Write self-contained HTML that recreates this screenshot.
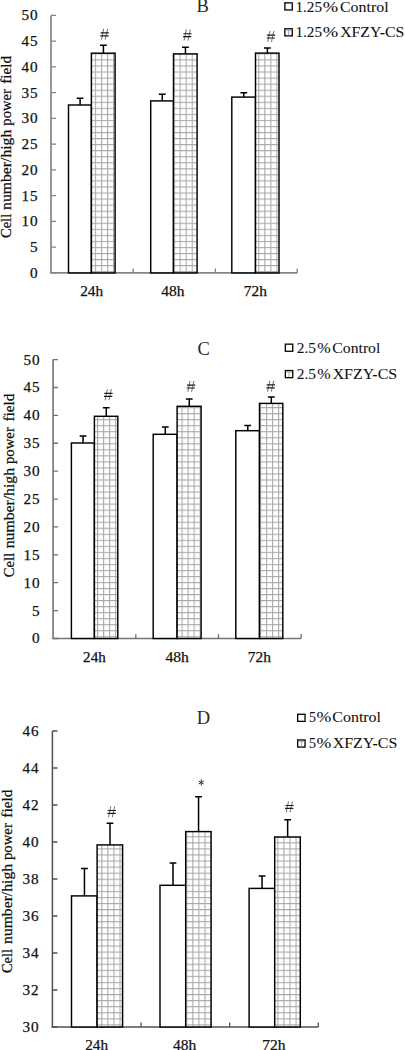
<!DOCTYPE html>
<html><head><meta charset="utf-8"><title>Cell number charts</title>
<style>html,body{margin:0;padding:0;background:#fff;}body{width:405px;height:1050px;overflow:hidden;}svg{display:block;}text{font-family:"Liberation Serif", serif;fill:#111;stroke:#111;stroke-width:0.25px;}</style>
</head><body>
<svg width="405" height="1050" viewBox="0 0 405 1050">
<rect width="405" height="1050" fill="#fff"/>
<defs>
<pattern id="g0" patternUnits="userSpaceOnUse" x="94.9" y="59.4" width="6.05" height="6.05">
<rect width="6.05" height="6.05" fill="#fff"/>
<path d="M0 0.5H6.05M0.5 0V6.05" stroke="#a8a8a8" stroke-width="1.1" fill="none"/>
</pattern>
<pattern id="g1" patternUnits="userSpaceOnUse" x="97.1" y="563.9" width="6.03" height="6.03">
<rect width="6.03" height="6.03" fill="#fff"/>
<path d="M0 0.5H6.03M0.5 0V6.03" stroke="#a8a8a8" stroke-width="1.1" fill="none"/>
</pattern>
<pattern id="g2" patternUnits="userSpaceOnUse" x="101.3" y="903" width="6.07" height="6.07">
<rect width="6.07" height="6.07" fill="#fff"/>
<path d="M0 0.5H6.07M0.5 0V6.07" stroke="#a8a8a8" stroke-width="1.1" fill="none"/>
</pattern>
</defs>
<g stroke="#848484" fill="none">
<path d="M51 15.4V272.9" stroke-width="1.7"/>
<path d="M51 15.4H56M51 41.15H56M51 66.9H56M51 92.65H56M51 118.4H56M51 144.15H56M51 169.9H56M51 195.65H56M51 221.4H56M51 247.15H56M51 272.9H56" stroke-width="1.3"/>
<path d="M50 272.9H297.2" stroke-width="1.7"/>
<path d="M133.2 272.9V268.4M215.4 272.9V268.4M297.2 272.9V268.4" stroke-width="1.3"/>
</g>
<text x="38.5" y="20.3" font-size="15.2" text-anchor="end" letter-spacing="0.9">50</text>
<text x="38.5" y="46.05" font-size="15.2" text-anchor="end" letter-spacing="0.9">45</text>
<text x="38.5" y="71.8" font-size="15.2" text-anchor="end" letter-spacing="0.9">40</text>
<text x="38.5" y="97.55" font-size="15.2" text-anchor="end" letter-spacing="0.9">35</text>
<text x="38.5" y="123.3" font-size="15.2" text-anchor="end" letter-spacing="0.9">30</text>
<text x="38.5" y="149.05" font-size="15.2" text-anchor="end" letter-spacing="0.9">25</text>
<text x="38.5" y="174.8" font-size="15.2" text-anchor="end" letter-spacing="0.9">20</text>
<text x="38.5" y="200.55" font-size="15.2" text-anchor="end" letter-spacing="0.9">15</text>
<text x="38.5" y="226.3" font-size="15.2" text-anchor="end" letter-spacing="0.9">10</text>
<text x="38.5" y="252.05" font-size="15.2" text-anchor="end" letter-spacing="0.9">5</text>
<text x="38.5" y="277.8" font-size="15.2" text-anchor="end" letter-spacing="0.9">0</text>
<rect x="68.5" y="105" width="22.9" height="167.9" fill="#fff" stroke="#000" stroke-width="1.45"/>
<rect x="91.4" y="53.2" width="23.7" height="219.7" fill="url(#g0)" stroke="#000" stroke-width="1.45"/>
<path d="M80.1 105V98.3M76.7 98.3H83.5" stroke="#000" stroke-width="1.5" fill="none"/>
<path d="M103.4 53.2V45.2M100 45.2H106.8" stroke="#000" stroke-width="1.5" fill="none"/>
<path d="M103.7 28.7L101.4 39.7M107.6 28.7L105.2 39.7" stroke="#555" stroke-width="0.85" fill="none"/>
<path d="M100.6 32.9H108.9M100.3 35.8H108.6" stroke="#1a1a1a" stroke-width="1.15" fill="none"/>
<rect x="150.7" y="100.9" width="22.8" height="172" fill="#fff" stroke="#000" stroke-width="1.45"/>
<rect x="173.5" y="53.9" width="23.6" height="219" fill="url(#g0)" stroke="#000" stroke-width="1.45"/>
<path d="M162.25 100.9V94.3M158.85 94.3H165.65" stroke="#000" stroke-width="1.5" fill="none"/>
<path d="M185.45 53.9V47.2M182.05 47.2H188.85" stroke="#000" stroke-width="1.5" fill="none"/>
<path d="M186.4 29.5L184.1 40.5M190.3 29.5L187.9 40.5" stroke="#555" stroke-width="0.85" fill="none"/>
<path d="M183.3 33.7H191.6M183 36.6H191.3" stroke="#1a1a1a" stroke-width="1.15" fill="none"/>
<rect x="231.8" y="97.1" width="23.7" height="175.8" fill="#fff" stroke="#000" stroke-width="1.45"/>
<rect x="255.5" y="53.1" width="23.5" height="219.8" fill="url(#g0)" stroke="#000" stroke-width="1.45"/>
<path d="M243.8 97.1V92.7M240.4 92.7H247.2" stroke="#000" stroke-width="1.5" fill="none"/>
<path d="M267.4 53.1V48M264 48H270.8" stroke="#000" stroke-width="1.5" fill="none"/>
<path d="M270 30.9L267.7 41.9M273.9 30.9L271.5 41.9" stroke="#555" stroke-width="0.85" fill="none"/>
<path d="M266.9 35.1H275.2M266.6 38H274.9" stroke="#1a1a1a" stroke-width="1.15" fill="none"/>
<text x="80.23" y="296" font-size="15" textLength="22.87" lengthAdjust="spacingAndGlyphs">24h</text>
<text x="161.2" y="296" font-size="15" textLength="23.21" lengthAdjust="spacingAndGlyphs">48h</text>
<text x="243.78" y="296" font-size="15" textLength="23.12" lengthAdjust="spacingAndGlyphs">72h</text>
<text x="202.7" y="12.4" font-size="18.5" text-anchor="middle" style="stroke-width:0;fill:#2a2a2a">B</text>
<rect x="284.85" y="2.85" width="7.4" height="7.1" fill="#fff" stroke="#000" stroke-width="1.3"/>
<text x="295.46" y="11.9" font-size="15" textLength="26.63" lengthAdjust="spacingAndGlyphs" style="stroke-width:0.08px">1.25</text>
<text x="322.67" y="11.9" font-size="15" textLength="15.47" lengthAdjust="spacingAndGlyphs" style="stroke-width:0.08px">%</text>
<text x="339.95" y="11.9" font-size="15" textLength="48.67" lengthAdjust="spacingAndGlyphs" style="stroke-width:0.08px">Control</text>
<rect x="284.85" y="28.75" width="7.4" height="7.1" fill="#fff" stroke="#000" stroke-width="1.3"/>
<path d="M288.6 29.6V35.3M285.7 30.3H291.4" stroke="#a8a8a8" stroke-width="1" fill="none"/>
<text x="295.46" y="37.2" font-size="15" textLength="26.63" lengthAdjust="spacingAndGlyphs" style="stroke-width:0.08px">1.25</text>
<text x="322.67" y="37.2" font-size="15" textLength="15.47" lengthAdjust="spacingAndGlyphs" style="stroke-width:0.08px">%</text>
<text x="340.16" y="37.2" font-size="15" textLength="64.09" lengthAdjust="spacingAndGlyphs" style="stroke-width:0.08px">XFZY-CS</text>
<text transform="rotate(-90)" x="-238.1" y="11.3" font-size="15" textLength="24.29" lengthAdjust="spacingAndGlyphs">Cell</text>
<text transform="rotate(-90)" x="-209.96" y="11.3" font-size="15" textLength="80.27" lengthAdjust="spacingAndGlyphs">number/high</text>
<text transform="rotate(-90)" x="-125.64" y="11.3" font-size="15" textLength="36.46" lengthAdjust="spacingAndGlyphs">power</text>
<text transform="rotate(-90)" x="-83.77" y="11.3" font-size="15" textLength="27.85" lengthAdjust="spacingAndGlyphs">field</text>
<g stroke="#747474" fill="none">
<path d="M53.1 359.6V638.5" stroke-width="1.6"/>
<path d="M53.1 359.6H58.1M53.1 387.49H58.1M53.1 415.38H58.1M53.1 443.27H58.1M53.1 471.16H58.1M53.1 499.05H58.1M53.1 526.94H58.1M53.1 554.83H58.1M53.1 582.72H58.1M53.1 610.61H58.1M53.1 638.5H58.1" stroke-width="1.3"/>
<path d="M52.1 638.5H301.2" stroke-width="1.6"/>
<path d="M135.8 638.5V634M218.5 638.5V634M301.2 638.5V634" stroke-width="1.3"/>
</g>
<text x="40.5" y="364.5" font-size="15.2" text-anchor="end" letter-spacing="0.9">50</text>
<text x="40.5" y="392.39" font-size="15.2" text-anchor="end" letter-spacing="0.9">45</text>
<text x="40.5" y="420.28" font-size="15.2" text-anchor="end" letter-spacing="0.9">40</text>
<text x="40.5" y="448.17" font-size="15.2" text-anchor="end" letter-spacing="0.9">35</text>
<text x="40.5" y="476.06" font-size="15.2" text-anchor="end" letter-spacing="0.9">30</text>
<text x="40.5" y="503.95" font-size="15.2" text-anchor="end" letter-spacing="0.9">25</text>
<text x="40.5" y="531.84" font-size="15.2" text-anchor="end" letter-spacing="0.9">20</text>
<text x="40.5" y="559.73" font-size="15.2" text-anchor="end" letter-spacing="0.9">15</text>
<text x="40.5" y="587.62" font-size="15.2" text-anchor="end" letter-spacing="0.9">10</text>
<text x="40.5" y="615.51" font-size="15.2" text-anchor="end" letter-spacing="0.9">5</text>
<text x="40.5" y="643.4" font-size="15.2" text-anchor="end" letter-spacing="0.9">0</text>
<rect x="71.4" y="443" width="23" height="195.5" fill="#fff" stroke="#000" stroke-width="1.45"/>
<rect x="94.4" y="416.3" width="23.4" height="222.2" fill="url(#g1)" stroke="#000" stroke-width="1.45"/>
<path d="M83.05 443V435.9M79.65 435.9H86.45" stroke="#000" stroke-width="1.5" fill="none"/>
<path d="M106.25 416.3V407.7M102.85 407.7H109.65" stroke="#000" stroke-width="1.5" fill="none"/>
<path d="M107.4 389.2L105.1 400.2M111.3 389.2L108.9 400.2" stroke="#555" stroke-width="0.85" fill="none"/>
<path d="M104.3 393.4H112.6M104 396.3H112.3" stroke="#1a1a1a" stroke-width="1.15" fill="none"/>
<rect x="153.2" y="434.3" width="23.9" height="204.2" fill="#fff" stroke="#000" stroke-width="1.45"/>
<rect x="177.1" y="406.3" width="24" height="232.2" fill="url(#g1)" stroke="#000" stroke-width="1.45"/>
<path d="M165.3 434.3V427M161.9 427H168.7" stroke="#000" stroke-width="1.5" fill="none"/>
<path d="M189.25 406.3V399M185.85 399H192.65" stroke="#000" stroke-width="1.5" fill="none"/>
<path d="M190.1 380.9L187.8 391.9M194 380.9L191.6 391.9" stroke="#555" stroke-width="0.85" fill="none"/>
<path d="M187 385.1H195.3M186.7 388H195" stroke="#1a1a1a" stroke-width="1.15" fill="none"/>
<rect x="235.8" y="430.7" width="23.7" height="207.8" fill="#fff" stroke="#000" stroke-width="1.45"/>
<rect x="259.5" y="403.4" width="23.3" height="235.1" fill="url(#g1)" stroke="#000" stroke-width="1.45"/>
<path d="M247.8 430.7V425.5M244.4 425.5H251.2" stroke="#000" stroke-width="1.5" fill="none"/>
<path d="M271.3 403.4V397M267.9 397H274.7" stroke="#000" stroke-width="1.5" fill="none"/>
<path d="M269.8 380.7L267.5 391.7M273.7 380.7L271.3 391.7" stroke="#555" stroke-width="0.85" fill="none"/>
<path d="M266.7 384.9H275M266.4 387.8H274.7" stroke="#1a1a1a" stroke-width="1.15" fill="none"/>
<text x="83.14" y="661.7" font-size="15" textLength="22.56" lengthAdjust="spacingAndGlyphs">24h</text>
<text x="165.5" y="661.7" font-size="15" textLength="23.41" lengthAdjust="spacingAndGlyphs">48h</text>
<text x="247.78" y="661.7" font-size="15" textLength="23.12" lengthAdjust="spacingAndGlyphs">72h</text>
<text x="203.6" y="354.5" font-size="18.5" text-anchor="middle" style="stroke-width:0;fill:#2a2a2a">C</text>
<rect x="285.35" y="344.15" width="7.4" height="7.1" fill="#fff" stroke="#000" stroke-width="1.3"/>
<text x="296.73" y="353.3" font-size="15" textLength="19.17" lengthAdjust="spacingAndGlyphs" style="stroke-width:0.08px">2.5</text>
<text x="317.25" y="353.3" font-size="15" textLength="13.4" lengthAdjust="spacingAndGlyphs" style="stroke-width:0.08px">%</text>
<text x="332.36" y="353.3" font-size="15" textLength="47.96" lengthAdjust="spacingAndGlyphs" style="stroke-width:0.08px">Control</text>
<rect x="285.35" y="370.55" width="7.4" height="7.1" fill="#fff" stroke="#000" stroke-width="1.3"/>
<path d="M289.1 371.4V377.1M286.2 372.1H291.9" stroke="#a8a8a8" stroke-width="1" fill="none"/>
<text x="296.73" y="379.3" font-size="15" textLength="19.17" lengthAdjust="spacingAndGlyphs" style="stroke-width:0.08px">2.5</text>
<text x="317.25" y="379.3" font-size="15" textLength="13.4" lengthAdjust="spacingAndGlyphs" style="stroke-width:0.08px">%</text>
<text x="332.66" y="379.3" font-size="15" textLength="64.4" lengthAdjust="spacingAndGlyphs" style="stroke-width:0.08px">XFZY-CS</text>
<text transform="rotate(-90)" x="-577.3" y="14.3" font-size="15" textLength="24.5" lengthAdjust="spacingAndGlyphs">Cell</text>
<text transform="rotate(-90)" x="-548.36" y="14.3" font-size="15" textLength="80.47" lengthAdjust="spacingAndGlyphs">number/high</text>
<text transform="rotate(-90)" x="-464.04" y="14.3" font-size="15" textLength="36.87" lengthAdjust="spacingAndGlyphs">power</text>
<text transform="rotate(-90)" x="-421.47" y="14.3" font-size="15" textLength="27.96" lengthAdjust="spacingAndGlyphs">field</text>
<g stroke="#505050" fill="none">
<path d="M52.4 731V1027" stroke-width="1.5"/>
<path d="M52.4 731H57.4M52.4 768H57.4M52.4 805H57.4M52.4 842H57.4M52.4 879H57.4M52.4 916H57.4M52.4 953H57.4M52.4 990H57.4M52.4 1027H57.4" stroke-width="1.3"/>
<path d="M51.4 1027H318.3" stroke-width="1.5"/>
<path d="M141.1 1027V1022.5M229.7 1027V1022.5M318.3 1027V1022.5" stroke-width="1.3"/>
</g>
<text x="39.4" y="735.9" font-size="15.2" text-anchor="end" letter-spacing="0.9">46</text>
<text x="39.4" y="772.9" font-size="15.2" text-anchor="end" letter-spacing="0.9">44</text>
<text x="39.4" y="809.9" font-size="15.2" text-anchor="end" letter-spacing="0.9">42</text>
<text x="39.4" y="846.9" font-size="15.2" text-anchor="end" letter-spacing="0.9">40</text>
<text x="39.4" y="883.9" font-size="15.2" text-anchor="end" letter-spacing="0.9">38</text>
<text x="39.4" y="920.9" font-size="15.2" text-anchor="end" letter-spacing="0.9">36</text>
<text x="39.4" y="957.9" font-size="15.2" text-anchor="end" letter-spacing="0.9">34</text>
<text x="39.4" y="994.9" font-size="15.2" text-anchor="end" letter-spacing="0.9">32</text>
<text x="39.4" y="1031.9" font-size="15.2" text-anchor="end" letter-spacing="0.9">30</text>
<rect x="71.5" y="895.9" width="25.6" height="131.1" fill="#fff" stroke="#000" stroke-width="1.45"/>
<rect x="97.1" y="844.9" width="25.5" height="182.1" fill="url(#g2)" stroke="#000" stroke-width="1.45"/>
<path d="M84.45 895.9V868.6M81.05 868.6H87.85" stroke="#000" stroke-width="1.5" fill="none"/>
<path d="M110 844.9V823.2M106.6 823.2H113.4" stroke="#000" stroke-width="1.5" fill="none"/>
<path d="M110.8 806.3L108.5 817.3M114.7 806.3L112.3 817.3" stroke="#555" stroke-width="0.85" fill="none"/>
<path d="M107.7 810.5H116M107.4 813.4H115.7" stroke="#1a1a1a" stroke-width="1.15" fill="none"/>
<rect x="160" y="885.3" width="25.7" height="141.7" fill="#fff" stroke="#000" stroke-width="1.45"/>
<rect x="185.7" y="831.6" width="25.4" height="195.4" fill="url(#g2)" stroke="#000" stroke-width="1.45"/>
<path d="M173 885.3V863M169.6 863H176.4" stroke="#000" stroke-width="1.5" fill="none"/>
<path d="M198.55 831.6V796.8M195.15 796.8H201.95" stroke="#000" stroke-width="1.5" fill="none"/>
<path d="M201.25 779.5V785.5M198.65 781L203.85 784M198.65 784L203.85 781" stroke="#333" stroke-width="1.0" fill="none"/>
<rect x="249.1" y="888.4" width="25.6" height="138.6" fill="#fff" stroke="#000" stroke-width="1.45"/>
<rect x="274.7" y="837" width="25.6" height="190" fill="url(#g2)" stroke="#000" stroke-width="1.45"/>
<path d="M262.05 888.4V876.1M258.65 876.1H265.45" stroke="#000" stroke-width="1.5" fill="none"/>
<path d="M287.65 837V819.7M284.25 819.7H291.05" stroke="#000" stroke-width="1.5" fill="none"/>
<path d="M288.5 801.3L286.2 812.3M292.4 801.3L290 812.3" stroke="#555" stroke-width="0.85" fill="none"/>
<path d="M285.4 805.5H293.7M285.1 808.4H293.4" stroke="#1a1a1a" stroke-width="1.15" fill="none"/>
<text x="85.23" y="1050" font-size="15" textLength="22.87" lengthAdjust="spacingAndGlyphs">24h</text>
<text x="173.1" y="1050" font-size="15" textLength="23.21" lengthAdjust="spacingAndGlyphs">48h</text>
<text x="262.38" y="1050" font-size="15" textLength="23.22" lengthAdjust="spacingAndGlyphs">72h</text>
<text x="203.5" y="723.5" font-size="18.5" text-anchor="middle" style="stroke-width:0;fill:#2a2a2a">D</text>
<rect x="297.65" y="714.25" width="7.4" height="7.1" fill="#fff" stroke="#000" stroke-width="1.3"/>
<text x="308.89" y="721.9" font-size="15" textLength="6.95" lengthAdjust="spacingAndGlyphs" style="stroke-width:0.08px">5</text>
<text x="316.49" y="721.9" font-size="15" textLength="14.82" lengthAdjust="spacingAndGlyphs" style="stroke-width:0.08px">%</text>
<text x="332.35" y="721.9" font-size="15" textLength="48.67" lengthAdjust="spacingAndGlyphs" style="stroke-width:0.08px">Control</text>
<rect x="297.65" y="739.95" width="7.4" height="7.1" fill="#fff" stroke="#000" stroke-width="1.3"/>
<path d="M301.4 740.8V746.5M298.5 741.5H304.2" stroke="#a8a8a8" stroke-width="1" fill="none"/>
<text x="308.89" y="747.6" font-size="15" textLength="6.95" lengthAdjust="spacingAndGlyphs" style="stroke-width:0.08px">5</text>
<text x="316.49" y="747.6" font-size="15" textLength="14.82" lengthAdjust="spacingAndGlyphs" style="stroke-width:0.08px">%</text>
<text x="332.66" y="747.6" font-size="15" textLength="64.7" lengthAdjust="spacingAndGlyphs" style="stroke-width:0.08px">XFZY-CS</text>
<text transform="rotate(-90)" x="-973.09" y="11.5" font-size="15" textLength="23.98" lengthAdjust="spacingAndGlyphs">Cell</text>
<text transform="rotate(-90)" x="-944.06" y="11.5" font-size="15" textLength="80.17" lengthAdjust="spacingAndGlyphs">number/high</text>
<text transform="rotate(-90)" x="-860.04" y="11.5" font-size="15" textLength="36.87" lengthAdjust="spacingAndGlyphs">power</text>
<text transform="rotate(-90)" x="-817.67" y="11.5" font-size="15" textLength="27.96" lengthAdjust="spacingAndGlyphs">field</text>
</svg>
</body></html>
